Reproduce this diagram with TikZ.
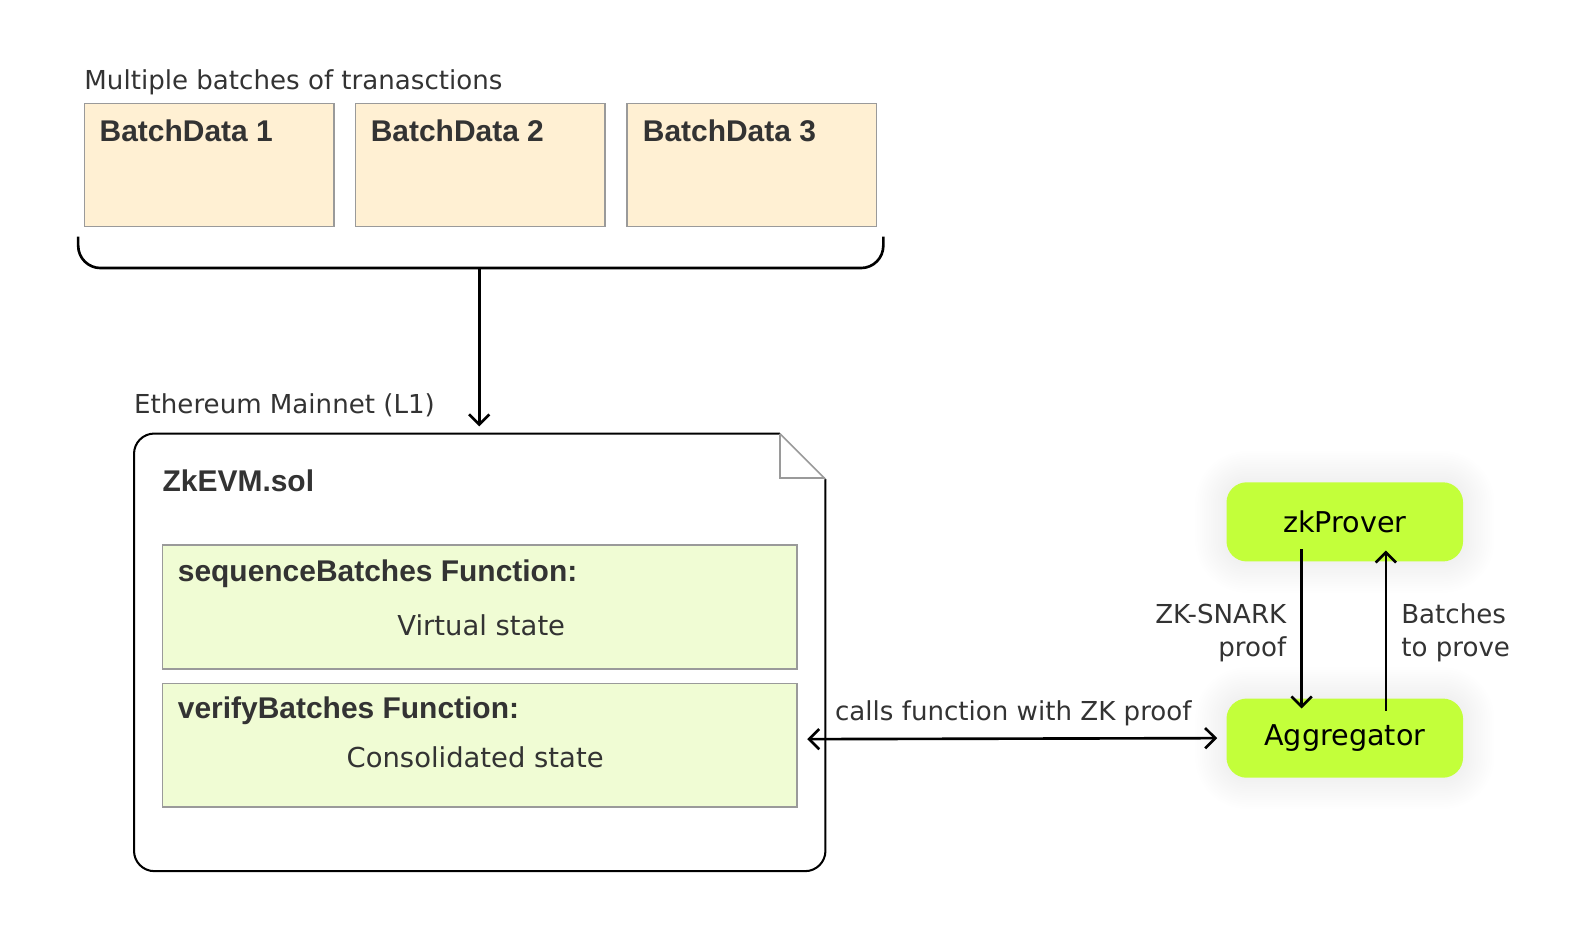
\documentclass[tikz,border=0pt]{standalone}
\usepackage{fontspec}
\setmainfont{DejaVu Sans}
\newfontfamily\bfam{Liberation Sans}
\usetikzlibrary{arrows.meta}
\definecolor{txt}{HTML}{333333}
\definecolor{cream}{HTML}{FFF0D3}
\definecolor{cbord}{HTML}{9A9A9A}
\definecolor{pale}{HTML}{F0FCD4}
\definecolor{limeg}{HTML}{C3FF3A}
\tikzset{
  lbl/.style={anchor=base west, inner sep=0, text=txt, font=\fontsize{25.7}{30}\selectfont},
  ttl/.style={anchor=base west, inner sep=0, text=txt, font=\bfam\fontsize{29.5}{34}\selectfont\bfseries},
  sub/.style={anchor=base, inner sep=0, text=txt, font=\fontsize{27}{31}\selectfont},
  batch/.style={draw=cbord, line width=1.5, fill=cream, minimum width=246, minimum height=121, inner sep=0},
  fbox/.style={draw=cbord, line width=1.5, fill=pale, minimum width=625, minimum height=122, inner sep=0},
  limebox/.style={fill=limeg, rounded corners=20, minimum width=233, minimum height=78, inner sep=0,
     text=black, font=\fontsize{28.2}{32}\selectfont},
  glowlayer/.style={fill=black, opacity=0.0055},
  barb/.tip={Straight Barb[length=10,width=20,line width=2.6]},
  conn/.style={line width=2.6, -barb},
  dconn/.style={line width=2.6, barb-barb},
}
\begin{document}
\begin{tikzpicture}[x=1pt,y=-1pt]
\useasboundingbox (0,0) rectangle (1568,921);
\fill[white] (0,0) rectangle (1568,921);

% top batches
\node[lbl] (multi) at (83,88) {Multiple batches of tranasctions};
\node[batch] (b1) at (206,162.5) {};
\node[batch] (b2) at (473,162.5) {};
\node[batch] (b3) at (740.5,162.5) {};
\node[ttl] (t1) at (98,139) {BatchData 1};
\node[ttl] (t2) at (365,139) {BatchData 2};
\node[ttl] (t3) at (633,139) {BatchData 3};

% brace
\draw[line width=2.6, rounded corners=22] (77,233) -- (77,264) -- (870,264) -- (870,233);
\coordinate (bracemid) at (472,264);
\coordinate (doctop) at (472,420);
\draw[conn] (bracemid) -- (doctop);

% document
\node[lbl] (eth) at (132,407) {Ethereum Mainnet (L1)};
\draw[line width=2] (768,427) -- (152,427) arc[start angle=-90, end angle=-180, radius=20]
  -- (132,838) arc[start angle=180, end angle=90, radius=20]
  -- (793,858) arc[start angle=90, end angle=0, radius=20]
  -- (813,472);
\draw[cbord, line width=1.5] (768,427) -- (768,471) -- (813,471);
\draw[cbord, line width=1.5] (768,427) -- (813,472);
\node[ttl] (zk) at (160,484) {ZkEVM.sol};

\node[fbox] (seq) at (472.5,598) {};
\node[ttl] (seqt) at (175,573) {sequenceBatches Function:};
\node[sub] (virt) at (474,626) {Virtual state};

\node[fbox] (ver) at (472.5,734) {};
\node[ttl] (vert) at (175,708) {verifyBatches Function:};
\node[sub] (cons) at (468,756) {Consolidated state};

% glow behind the lime boxes
\foreach \cy in {514,727}{
  \foreach \i in {1,...,14}{
    \fill[glowlayer, rounded corners={20+\i*2.2}]
      ({1208-\i*2.2},{\cy-39-\i*2.2}) rectangle ({1441+\i*2.2},{\cy+39+\i*2.2});
  }
}
% right side
\node[limebox] (prover) at (1324.5,514) {zkProver};
\node[limebox] (agg) at (1324.5,727) {Aggregator};

\coordinate (docright) at (795,728);
\draw[dconn] (docright) -- ([xshift=-9pt]agg.west);
\node[lbl, anchor=base] (calls) at (998,710) {calls function with ZK proof};

\draw[conn] ([xshift=-42.5pt, yshift=12pt]prover.south) -- ([xshift=-42.5pt, yshift=-10pt]agg.north);
\draw[conn] ([xshift=40.5pt, yshift=-12pt]agg.north) -- ([xshift=40.5pt, yshift=11pt]prover.south);

\node[lbl, anchor=base east] (snark) at (1267,614) {ZK-SNARK};
\node[lbl, anchor=base east] (snark2) at (1267,647) {proof};
\node[lbl] (bt) at (1380,614) {Batches};
\node[lbl] (bt2) at (1380,647) {to prove};
\end{tikzpicture}
\end{document}
